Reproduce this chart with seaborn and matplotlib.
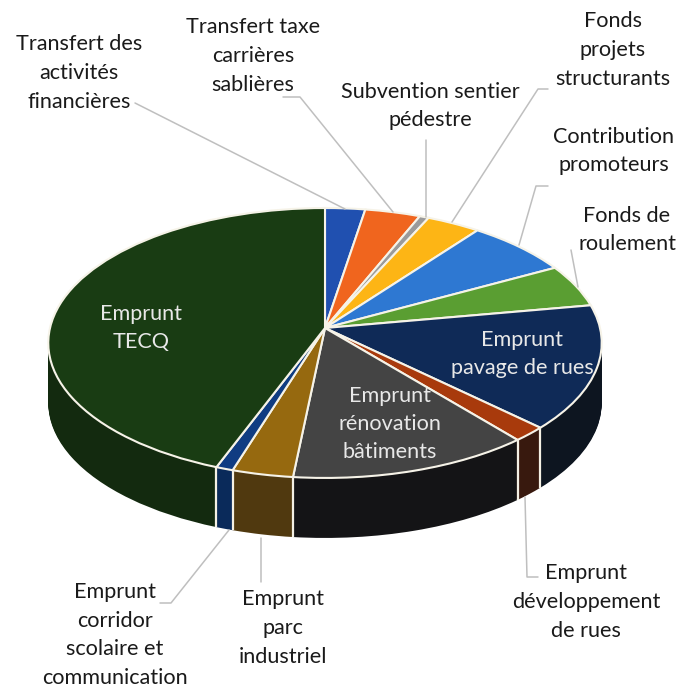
import matplotlib
matplotlib.use("Agg")
import matplotlib.pyplot as plt
import matplotlib.transforms as mtransforms
import numpy as np
import seaborn as sns

# share of each slice, clockwise from 12 o'clock
categories = ["Transfert des activités financières", "Transfert taxe carrières sablières",
              "Subvention sentier pédestre", "Fonds projets structurants",
              "Contribution promoteurs", "Fonds de roulement", "Emprunt pavage de rues",
              "Emprunt développement de rues", "Emprunt rénovation bâtiments",
              "Emprunt parc industriel", "Emprunt corridor scolaire et communication",
              "Emprunt TECQ"]
values = [2.6, 3.6, 0.6, 3.5, 6.8, 5.1, 14.9, 1.8, 12.7, 3.2, 0.9, 44.2]

top_colors = ["#2050b0", "#f0651e", "#9a9a9a", "#fdb515", "#2e78d2", "#5a9e32",
              "#0f2a57", "#a83a0c", "#444444", "#96690f", "#103c82", "#193c13"]
side_colors = ["#102858", "#78320f", "#4d4d4d", "#7f5a0a", "#173c69", "#2d4f19",
               "#0d1520", "#38190e", "#141416", "#50390f", "#0a2a5a", "#132a0f"]

# wrapped text and where it sits, in pixels
outer_labels = ["Transfert des\nactivités\nfinancières", "Transfert taxe\ncarrières\nsablières",
                "Subvention sentier\npédestre", "Fonds\nprojets\nstructurants",
                "Contribution\npromoteurs", "Fonds de\nroulement",
                "Emprunt\ndéveloppement\nde rues", "Emprunt\nparc\nindustriel",
                "Emprunt\ncorridor\nscolaire et\ncommunication"]
outer_pos = [(79, 73), (253, 56), (430, 106), (613, 50), (614, 151), (627, 230),
             (586, 602), (283, 628), (115, 635)]
inner_labels = ["Emprunt\nTECQ", "Emprunt\npavage de rues", "Emprunt\nrénovation\nbâtiments"]
inner_pos = [(141, 328), (522, 354), (390, 424)]

leaders = [[(135, 103), (345, 209)],
           [(283, 97), (300, 97), (393, 212)],
           [(426, 140), (426, 217)],
           [(548, 89), (538, 89), (452, 222)],
           [(548, 186), (536, 186), (519, 245)],
           [(571, 250), (578, 287)],
           [(525, 497), (527, 577), (538, 577)],
           [(261, 538), (261, 582)],
           [(229, 530), (171, 603), (160, 603)]]

CX, CY = 325, 328
RX, RY, TILT = 275, 133.3, 0.111
DEPTH = 60


class Tilt(mtransforms.Transform):
    # unit circle -> tilted disc in pixel coordinates, with a bit of perspective
    input_dims = output_dims = 2

    def __init__(self, drop=0):
        super().__init__()
        self.drop = drop

    def transform_non_affine(self, xy):
        xy = np.asarray(xy, dtype=float)
        w = 1 + TILT * xy[:, 1]
        return np.column_stack([CX + RX * xy[:, 0] / w, CY + self.drop - RY * xy[:, 1] / w])


sns.set_theme(style="white")
plt.rcParams["font.family"] = ["Lato", "DejaVu Sans"]

fig = plt.figure(figsize=(6.95, 6.91), dpi=100)
ax = fig.add_axes([0, 0, 1, 1])


def draw_pie(colors, drop, edge=None):
    wedges, _ = ax.pie(values, colors=colors, startangle=90, counterclock=False,
                       wedgeprops=dict(edgecolor=edge, linewidth=1.5 if edge else 0))
    for w in wedges:
        w.set_transform(Tilt(drop) + ax.transData)


# the wall is a stack of pies, the top one goes last
for drop in range(DEPTH, 0, -1):
    draw_pie(side_colors, drop)

# seams on the front wall
edges = np.cumsum(values) / np.sum(values) * 2 * np.pi
for a in edges[:-1]:
    ux, uy = np.sin(a), np.cos(a)
    if uy < 0:
        p = Tilt().transform_non_affine(np.array([[ux, uy]]))[0]
        ax.plot([p[0], p[0]], [p[1], p[1] + DEPTH], color="#f4f0e4", lw=1.6, solid_capstyle="butt")

draw_pie(top_colors, 0, edge="#f6f3e8")
ax.set_aspect("auto")
ax.set(xlim=(0, 695), ylim=(691, 0))
ax.axis("off")

for line in leaders:
    xs, ys = zip(*line)
    ax.plot(xs, ys, color="#bfbfbf", lw=1.1)

for txt, (x, y) in zip(outer_labels, outer_pos):
    ax.text(x, y, txt, ha="center", va="center", fontsize=15.6, color="#1a1a1a", linespacing=1.54)
for txt, (x, y) in zip(inner_labels, inner_pos):
    ax.text(x, y, txt, ha="center", va="center", fontsize=15.6, color="#e8e8e8", linespacing=1.5)

fig.savefig("out.png", dpi=100)
